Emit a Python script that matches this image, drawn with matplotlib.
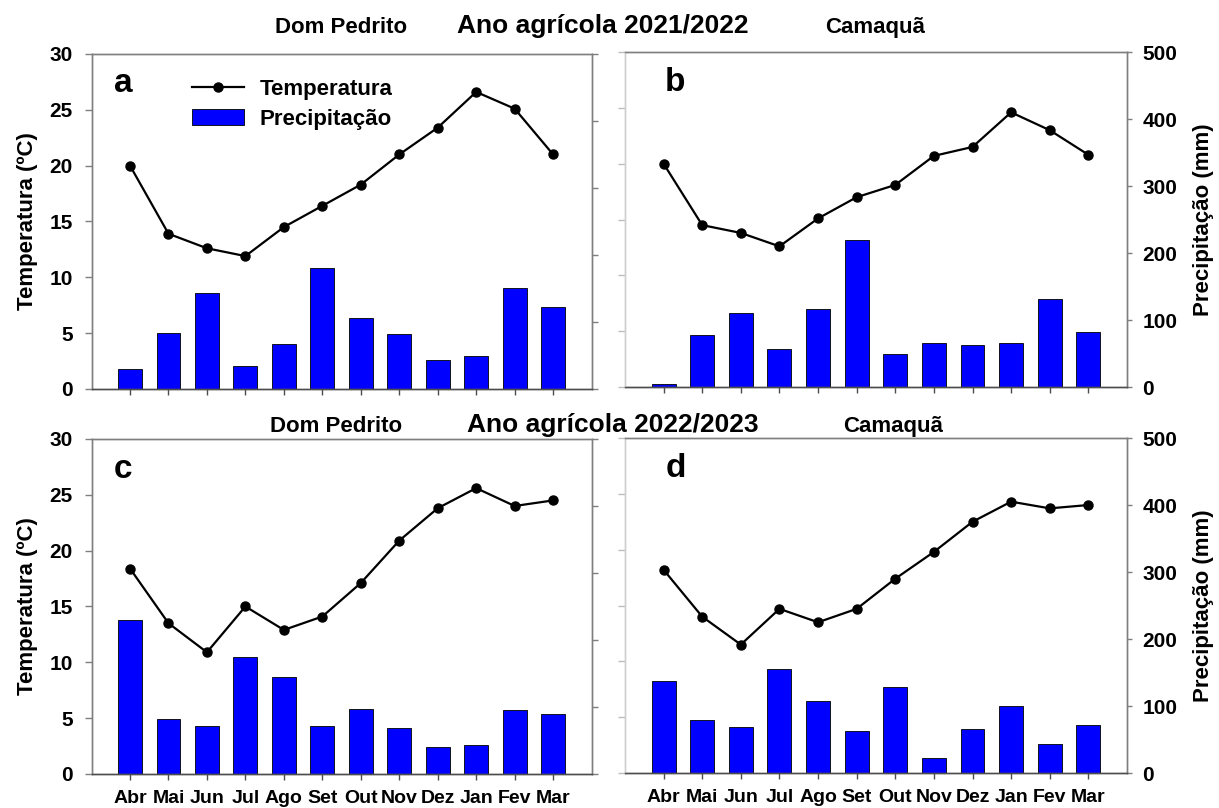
import matplotlib
matplotlib.use("Agg")
import matplotlib.pyplot as plt
import numpy as np

# month labels (Apr -> Mar, agricultural year)
months = ["Abr", "Mai", "Jun", "Jul", "Ago", "Set", "Out", "Nov", "Dez", "Jan", "Fev", "Mar"]

# 2021/2022 - Dom Pedrito (a)
temp_a = [20.0, 13.9, 12.6, 11.9, 14.5, 16.4, 18.3, 21.0, 23.4, 26.6, 25.1, 21.0]
prec_a = [30, 84, 143, 34, 67, 181, 106, 82, 43, 49, 150, 122]
# 2021/2022 - Camaquã (b)
temp_b = [20.0, 14.5, 13.8, 12.6, 15.1, 17.0, 18.1, 20.7, 21.5, 24.6, 23.0, 20.8]
prec_b = [4, 78, 110, 57, 117, 220, 50, 66, 63, 66, 131, 82]
# 2022/2023 - Dom Pedrito (c)
temp_c = [18.4, 13.5, 10.9, 15.0, 12.9, 14.1, 17.1, 20.9, 23.8, 25.6, 24.0, 24.5]
prec_c = [230, 82, 71, 175, 145, 71, 97, 69, 40, 44, 95, 90]
# 2022/2023 - Camaquã (d)
temp_d = [18.2, 14.0, 11.5, 14.7, 13.5, 14.7, 17.4, 19.8, 22.5, 24.3, 23.7, 24.0]
prec_d = [137, 79, 69, 155, 107, 62, 129, 23, 65, 100, 44, 72]

temp_ticks = [0, 5, 10, 15, 20, 25, 30]
prec_ticks = [0, 100, 200, 300, 400, 500]

BLUE = "#0000ff"
SPINE = "#7f7f7f"
SPINE_DARK = "#4d4d4d"
FAINT = "#cfcfcf"

plt.rcParams.update({
    "font.family": ["Liberation Sans", "DejaVu Sans"],
    "font.weight": "bold",
})

fig = plt.figure(figsize=(12.19, 8.08), dpi=100)

# (left, bottom, width, height) in figure fraction
boxes = {
    "a": (0.0751, 0.5186, 0.4102, 0.4146),
    "b": (0.5127, 0.5210, 0.4118, 0.4146),
    "c": (0.0751, 0.0421, 0.4102, 0.4146),
    "d": (0.5127, 0.0433, 0.4118, 0.4146),
}
panels = [
    ("a", temp_a, prec_a, "left", False),
    ("b", temp_b, prec_b, "right", False),
    ("c", temp_c, prec_c, "left", True),
    ("d", temp_d, prec_d, "right", True),
]

x = np.arange(len(months))

for letter, temp, prec, side, bottom in panels:
    ax = fig.add_axes(boxes[letter])
    ax2 = ax.twinx()
    ax.set_zorder(ax2.get_zorder() + 1)
    ax.patch.set_visible(False)

    bars = ax2.bar(x, prec, width=0.62, color=BLUE, edgecolor="black", linewidth=0.6,
                   label="Precipitação")
    line, = ax.plot(x, temp, color="black", lw=1.6, marker="o", ms=6.5,
                    label="Temperatura")

    ax.set_xlim(-1, 12)
    ax.set_ylim(0, 30)
    ax2.set_ylim(0, 500)
    ax.set_yticks(temp_ticks)
    ax2.set_yticks(prec_ticks)
    ax.set_xticks(x)

    for a in (ax, ax2):
        for s in a.spines.values():
            s.set_color(SPINE)
            s.set_linewidth(1.0)
        a.spines["bottom"].set_color(SPINE_DARK)

    ax.tick_params(axis="x", direction="out", length=4.5, width=1, color=SPINE_DARK,
                   labelsize=14, pad=7)
    if bottom:
        ax.set_xticklabels(months)
    else:
        ax.set_xticklabels([])

    if side == "left":
        ax.tick_params(axis="y", direction="out", length=5, width=1, color=SPINE,
                       labelsize=15, pad=8.5)
        ax2.tick_params(axis="y", direction="out", length=4, width=1, color=SPINE,
                        labelright=False)
        ax.set_ylabel("Temperatura (ºC)", fontsize=16, fontweight="bold", labelpad=8)
    else:
        ax.spines["left"].set_color(FAINT)
        ax2.spines["left"].set_color(FAINT)
        ax.tick_params(axis="y", direction="out", length=5, width=1, color="#bdbdbd",
                       labelleft=False)
        ax2.tick_params(axis="y", direction="out", length=3.5, width=1, color=SPINE,
                        labelsize=15, pad=7.5)
        ax2.set_ylabel("Precipitação (mm)", fontsize=16, fontweight="bold", labelpad=11)

    ax.text(0.044 if side == "left" else 0.08, 0.885, letter, transform=ax.transAxes,
            fontsize=24, fontweight="bold", va="baseline", ha="left")

    if letter == "a":
        ax.legend([line, bars], ["Temperatura", "Precipitação"], loc="upper left",
                  bbox_to_anchor=(0.2, 0.925), frameon=False, fontsize=16,
                  handlelength=2.35, handletextpad=0.7, labelspacing=0.4,
                  borderpad=0, borderaxespad=0)

# headers
fig.text(341 / 1219, 1 - 33 / 808, "Dom Pedrito", ha="center", va="baseline", fontsize=16)
fig.text(603 / 1219, 1 - 33 / 808, "Ano agrícola 2021/2022", ha="center", va="baseline",
         fontsize=19)
fig.text(875 / 1219, 1 - 33 / 808, "Camaquã", ha="center", va="baseline", fontsize=16)
fig.text(336 / 1219, 1 - 432 / 808, "Dom Pedrito", ha="center", va="baseline", fontsize=16)
fig.text(613 / 1219, 1 - 432 / 808, "Ano agrícola 2022/2023", ha="center", va="baseline",
         fontsize=19)
fig.text(893 / 1219, 1 - 432 / 808, "Camaquã", ha="center", va="baseline", fontsize=16)

fig.savefig("out.png", dpi=100, facecolor="white")
